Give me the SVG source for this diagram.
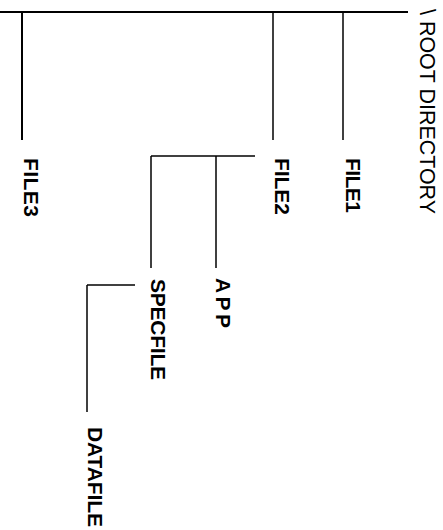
<svg xmlns="http://www.w3.org/2000/svg" width="443" height="530" viewBox="0 0 443 530">
<style>
.ln{stroke:#000;stroke-width:1.5;fill:none}
.lb{font-family:"Liberation Sans",Arial,sans-serif;font-size:21px;font-weight:bold;fill:#000}
.rt{font-family:"Liberation Sans",Arial,sans-serif;font-size:22px;fill:#000}
</style>
<rect width="443" height="530" fill="#fff"/>
<g id="connectors">
<path class="ln" d="M0 12H408" style="stroke-width:2"/>
<path class="ln" d="M22 12V140" style="stroke-width:2"/>
<path class="ln" d="M273 12V140"/>
<path class="ln" d="M343 12V140"/>
<path class="ln" d="M151 156H255"/>
<path class="ln" d="M151 156V268"/>
<path class="ln" d="M216 156V268"/>
<path class="ln" d="M87 285H135"/>
<path class="ln" d="M87 285V412"/>
</g>
<g id="root"><text class="rt" transform="translate(420,9) rotate(90)" textLength="205" lengthAdjust="spacingAndGlyphs">\ ROOT DIRECTORY</text></g>
<g id="file1"><text class="lb" transform="translate(346,158) rotate(90)" textLength="55" lengthAdjust="spacing">FILE1</text></g>
<g id="file2"><text class="lb" transform="translate(275,158) rotate(90)" textLength="57" lengthAdjust="spacing">FILE2</text></g>
<g id="file3"><text class="lb" transform="translate(24,158) rotate(90)" textLength="59" lengthAdjust="spacing">FILE3</text></g>
<g id="app"><text class="lb" transform="translate(216,278) rotate(90)" textLength="50" lengthAdjust="spacing">APP</text></g>
<g id="specfile"><text class="lb" transform="translate(151,279) rotate(90)" textLength="101" lengthAdjust="spacing">SPECFILE</text></g>
<g id="datafile"><text class="lb" transform="translate(88,427) rotate(90)" textLength="100" lengthAdjust="spacing">DATAFILE</text></g>
</svg>
